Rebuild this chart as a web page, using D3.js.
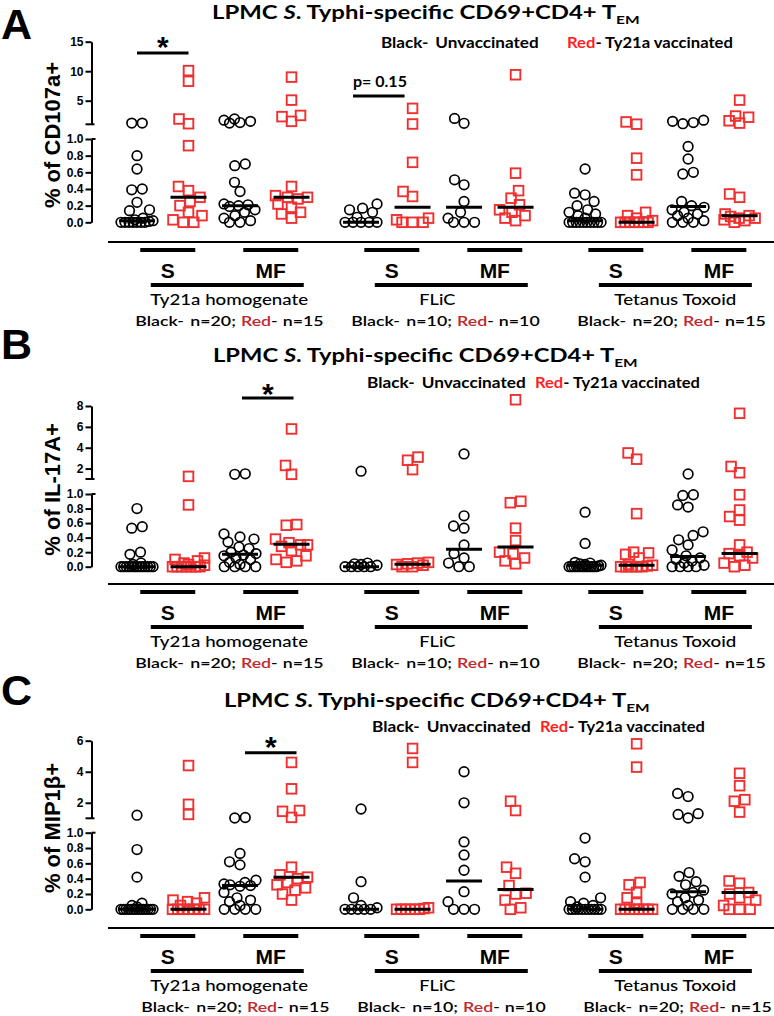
<!DOCTYPE html>
<html><head><meta charset="utf-8">
<script src="https://cdn.jsdelivr.net/npm/d3@7/dist/d3.min.js"></script>
<style>body{margin:0;background:#fff}svg{display:block}</style>
</head><body>
<svg id="chart" width="774" height="1016"></svg>
<script>
// ---------------- DATA ----------------
const antigens = ["Ty21a homogenate", "FLiC", "Tetanus Toxoid"];
const stims = ["S", "MF"];
const groupNames = ["Unvaccinated", "Ty21a vaccinated"];
const nBlack = [20, 10, 20];
const nRed = [15, 10, 15];
const panelLetters = ["A", "B", "C"];
const yTitles = ["% of CD107a+", "% of IL-17A+", "% of MIP1\u03B2+"];
const lowerTicks = [0, 0.2, 0.4, 0.6, 0.8, 1.0];
const upperTicksA = [5, 10, 15];
const upperTicksB = [2, 4, 6, 8];
const upperTicksC = [2, 4, 6];
const upperMax = [15, 8, 6];

// columns: Ty S, Ty MF, FLiC S, FLiC MF, TT S, TT MF
const cd107aBlack = [
  [1.2, 1.2, 0.80, 0.64, 0.39, 0.40, 0.24, 0.15, 0.14, 0.05, 0.03, 0.02, 0.01, 0, 0, 0, 0, 0, 0, 0],
  [1.9, 1.7, 1.5, 1.3, 1.2, 0.70, 0.68, 0.48, 0.37, 0.22, 0.21, 0.20, 0.19, 0.15, 0.12, 0.08, 0.05, 0.02, 0, 0],
  [0.22, 0.17, 0.15, 0.12, 0.06, 0, 0, 0, 0, 0],
  [2.0, 1.17, 0.51, 0.45, 0.25, 0.12, 0.05, 0, 0, 0],
  [0.64, 0.35, 0.33, 0.25, 0.20, 0.15, 0.12, 0.10, 0.08, 0.05, 0, 0, 0, 0, 0, 0, 0, 0, 0, 0],
  [1.7, 1.5, 1.3, 1.1, 0.91, 0.76, 0.60, 0.58, 0.25, 0.20, 0.18, 0.15, 0.12, 0.10, 0.08, 0.05, 0.02, 0, 0, 0]
];
const cd107aRed = [
  [10.1, 8.3, 1.9, 1.1, 0.92, 0.43, 0.38, 0.30, 0.25, 0.20, 0.12, 0.08, 0.03, 0, 0],
  [9.0, 5.1, 2.5, 2.3, 1.5, 0.43, 0.32, 0.30, 0.30, 0.28, 0.22, 0.18, 0.12, 0.10, 0.05],
  [3.7, 1.05, 0.72, 0.37, 0.31, 0.05, 0.03, 0, 0, 0],
  [9.4, 0.59, 0.38, 0.29, 0.21, 0.15, 0.12, 0.08, 0.05, 0.02],
  [1.4, 1.02, 0.77, 0.57, 0.12, 0.08, 0.05, 0.02, 0, 0, 0, 0, 0, 0, 0],
  [5.1, 2.4, 2.2, 1.6, 1.2, 0.34, 0.30, 0.10, 0.08, 0.07, 0.05, 0.05, 0.03, 0.02, 0]
];
const cd107aMedBlack = [0.02, 0.20, 0.0, 0.18, 0.02, 0.19];
const cd107aMedRed = [0.30, 0.30, 0.18, 0.18, 0.0, 0.08];

const il17aBlack = [
  [0.80, 0.55, 0.53, 0.20, 0.17, 0.05, 0.03, 0, 0, 0, 0, 0, 0, 0, 0, 0, 0, 0, 0, 0],
  [1.5, 1.45, 0.45, 0.41, 0.38, 0.34, 0.27, 0.25, 0.20, 0.18, 0.16, 0.15, 0.12, 0.10, 0.06, 0.03, 0, 0, 0, 0],
  [1.75, 0.05, 0.04, 0.03, 0.02, 0, 0, 0, 0, 0],
  [3.4, 0.70, 0.56, 0.53, 0.30, 0.18, 0.12, 0.05, 0, 0],
  [0.75, 0.32, 0.06, 0.05, 0.04, 0.03, 0.02, 0.01, 0, 0, 0, 0, 0, 0, 0, 0, 0, 0, 0, 0],
  [1.48, 0.99, 0.98, 0.85, 0.82, 0.48, 0.43, 0.37, 0.30, 0.23, 0.15, 0.12, 0.10, 0.08, 0.05, 0.02, 0, 0, 0, 0]
];
const il17aRed = [
  [1.25, 0.85, 0.12, 0.10, 0.08, 0.05, 0.03, 0.02, 0, 0, 0, 0, 0, 0, 0],
  [5.8, 2.3, 1.45, 0.58, 0.57, 0.38, 0.33, 0.30, 0.30, 0.28, 0.22, 0.15, 0.10, 0.08, 0.06],
  [3.1, 2.8, 1.9, 0.06, 0.05, 0.04, 0.03, 0.02, 0, 0],
  [8.6, 0.90, 0.88, 0.53, 0.36, 0.20, 0.18, 0.12, 0.08, 0.04],
  [3.5, 2.9, 0.73, 0.20, 0.19, 0.17, 0.12, 0.03, 0.02, 0.01, 0, 0, 0, 0, 0],
  [7.3, 2.2, 1.6, 0.99, 0.78, 0.69, 0.64, 0.30, 0.20, 0.18, 0.15, 0.12, 0.05, 0.02, 0]
];
const il17aMedBlack = [0.0, 0.17, 0.0, 0.24, 0.02, 0.14];
const il17aMedRed = [0.0, 0.31, 0.035, 0.27, 0.02, 0.18];

const mip1bBlack = [
  [1.2, 0.78, 0.42, 0.08, 0.05, 0.03, 0, 0, 0, 0, 0, 0, 0, 0, 0, 0, 0, 0, 0, 0],
  [1.05, 1.02, 0.73, 0.62, 0.58, 0.38, 0.35, 0.33, 0.32, 0.31, 0.30, 0.22, 0.15, 0.12, 0.10, 0.05, 0, 0, 0, 0],
  [1.6, 0.36, 0.15, 0.05, 0.02, 0, 0, 0, 0, 0],
  [4.0, 2.0, 0.88, 0.71, 0.51, 0.23, 0.10, 0, 0, 0],
  [0.93, 0.66, 0.62, 0.42, 0.15, 0.10, 0.08, 0.05, 0.03, 0, 0, 0, 0, 0, 0, 0, 0, 0, 0, 0],
  [2.6, 2.4, 1.3, 1.25, 1.02, 0.48, 0.43, 0.36, 0.32, 0.25, 0.22, 0.20, 0.15, 0.12, 0.10, 0.05, 0, 0, 0, 0]
];
const mip1bRed = [
  [4.4, 1.9, 1.25, 0.15, 0.12, 0.10, 0.08, 0.05, 0, 0, 0, 0, 0, 0, 0],
  [4.6, 2.9, 1.5, 1.45, 1.06, 0.55, 0.45, 0.42, 0.40, 0.35, 0.32, 0.28, 0.25, 0.20, 0.12],
  [5.5, 4.6, 0.02, 0.01, 0, 0, 0, 0, 0, 0],
  [2.1, 1.5, 0.55, 0.47, 0.31, 0.21, 0.20, 0.12, 0.02, 0],
  [5.8, 4.3, 0.35, 0.32, 0.22, 0.15, 0.08, 0, 0, 0, 0, 0, 0, 0, 0],
  [3.9, 3.1, 2.2, 2.1, 1.4, 0.37, 0.34, 0.22, 0.20, 0.15, 0.12, 0.05, 0, 0, 0]
];
const mip1bMedBlack = [0.0, 0.31, 0.0, 0.37, 0.0, 0.23];
const mip1bMedRed = [0.0, 0.42, 0.0, 0.26, 0.0, 0.22];

// ---------------- LAYOUT ----------------
const layouts = [
  {letterY: 39, title: [212, 640, 19], leg: [48, 381, 532, 567, 733], up: [41.7, 124.3], lo: [139, 222.3], axisY: 242, nShift: 0,
   sig: [{c: [0, 1], dx: 0, y: 53, text: "*", ty: 40}, {c: [4.35, 5.35], dx: -8, y: 96, text: "p= 0.15", ty: 87}]},
  {letterY: 359, title: [213, 638, 362], leg: [388, 367, 519, 535, 700], up: [406, 479], lo: [494, 566.7], axisY: 584, nShift: 0,
   sig: [{c: [2, 3], dx: 2, y: 398, text: "*", ty: 387}]},
  {letterY: 705, title: [224, 650, 707], leg: [732, 372, 524, 540, 705], up: [740.7, 818.3], lo: [832.7, 909.3], axisY: 928, nShift: 6,
   sig: [{c: [2, 3], dx: 5, y: 752.7, text: "*", ty: 740}]}
];
const datasets = [
  {black: cd107aBlack, red: cd107aRed, medB: cd107aMedBlack, medR: cd107aMedRed, ticks: upperTicksA},
  {black: il17aBlack, red: il17aRed, medB: il17aMedBlack, medR: il17aMedRed, ticks: upperTicksB},
  {black: mip1bBlack, red: mip1bRed, medB: mip1bMedBlack, medR: mip1bMedRed, ticks: upperTicksC}
];

const FT = "Lato, 'Open Sans', sans-serif";
const FA = "'Liberation Sans', Arial, sans-serif";
const RED = "#f03030";
const RED_LEG = "#ff1f1f";
const RED_N = "#c0282d";
const GSTEP = 4.35;
const x = d3.scaleLinear().domain([0, 11.7]).range([137, 739.6]);
const AX = 91.5;

const svg = d3.select("#chart");

function fitText(parent, x0, x1, base, fs, weight, family, build) {
  const t = parent.append("text").attr("font-size", fs).attr("font-weight", weight)
    .attr("font-family", family).attr("fill", "#000");
  build(t);
  const w = t.node().getComputedTextLength();
  const k = (x1 - x0) / w;
  t.attr("transform", `translate(${x0},${base}) scale(${k},1)`);
  return t;
}

function swarm(vals, yf, D, maxW) {
  const pts = vals.map(v => ({v, y: yf(v), dx: 0})).sort((a, b) => b.y - a.y);
  const placed = [];
  const minDist = (xx, yy) => placed.reduce((m, q) => Math.min(m, Math.hypot(q.dx - xx, q.y - yy)), Infinity);
  let i = 0;
  while (i < pts.length) {
    let j = i;
    while (j + 1 < pts.length && Math.abs(pts[j + 1].y - pts[i].y) < 2) j++;
    const k = j - i + 1;
    const s = k > 1 ? Math.min(D, 2 * maxW / (k - 1)) : 0;
    const offs = d3.range(k).map(m => (m - (k - 1) / 2) * s);
    const ok = offs.every((o, m) => minDist(o, pts[i + m].y) >= D - 0.5);
    if (ok) {
      offs.forEach((o, m) => { pts[i + m].dx = o; placed.push(pts[i + m]); });
    } else {
      for (let m = i; m <= j; m++) {
        const p = pts[m];
        const cands = d3.range(-maxW, maxW + 0.01, 0.5).sort((a, b) => Math.abs(a) - Math.abs(b));
        let best = null, bestD = -1;
        for (const c of cands) {
          const d = minDist(c, p.y);
          if (d >= D) { best = c; break; }
          if (d > bestD) { bestD = d; best = c; }
        }
        p.dx = best; placed.push(p);
      }
    }
    i = j + 1;
  }
  return pts;
}

datasets.forEach((ds, pi) => {
  const L = layouts[pi];
  const g = svg.append("g");
  const up = d3.scaleLinear().domain([1, upperMax[pi]]).range([L.up[1], L.up[0]]);
  const lo = d3.scaleLinear().domain([0, 1]).range([L.lo[1], L.lo[0]]);
  const yf = v => v > 1 ? up(v) : lo(v);

  // panel letter
  g.append("text").attr("x", 1).attr("y", L.letterY).attr("font-family", FA).attr("font-weight", "bold")
    .attr("font-size", 43).text(panelLetters[pi]);

  // title
  fitText(g, L.title[0], L.title[1], L.title[2], 18.5, "bold", FT, t => {
    t.append("tspan").text("LPMC ");
    t.append("tspan").attr("font-style", "italic").text("S");
    t.append("tspan").text(". Typhi-specific CD69+CD4+ T");
    t.append("tspan").attr("font-size", 12).attr("dy", 5).text("EM");
  });
  // legend
  fitText(g, L.leg[1], L.leg[2], L.leg[0], 15, "bold", FT, t => {
    t.append("tspan").text("Black-");
    t.append("tspan").attr("dx", 6).text("Unvaccinated");
  });
  fitText(g, L.leg[3], L.leg[4], L.leg[0], 15, "bold", FT, t => {
    t.append("tspan").attr("fill", RED_LEG).text("Red");
    t.append("tspan").text("- " + groupNames[1]);
  });

  // axes
  const aU = d3.axisLeft(up).tickValues(ds.ticks).tickSize(6).tickSizeOuter(0).tickPadding(2).tickFormat(d3.format("d"));
  const aL = d3.axisLeft(lo).tickValues(lowerTicks).tickSize(6).tickSizeOuter(0).tickPadding(2).tickFormat(d3.format(".1f"));
  [aU, aL].forEach(a => {
    const ag = g.append("g").attr("transform", `translate(${AX},0)`).call(a);
    ag.select(".domain").attr("stroke", "#000").attr("stroke-width", 2);
    ag.selectAll(".tick line").attr("stroke", "#000").attr("stroke-width", 2);
    ag.selectAll(".tick text").attr("font-family", FA).attr("font-weight", "bold").attr("font-size", 12).attr("fill", "#000");
  });
  // break ticks
  g.append("line").attr("x1", AX - 6).attr("x2", AX + 3).attr("y1", up(1)).attr("y2", up(1)).attr("stroke", "#000").attr("stroke-width", 2);
  g.append("line").attr("x1", AX).attr("x2", AX + 4).attr("y1", lo(1)).attr("y2", lo(1)).attr("stroke", "#000").attr("stroke-width", 2);

  // y title
  g.append("text").attr("transform", `translate(52,${(L.up[0] + L.lo[1]) / 2 + 3}) rotate(-90)`)
    .attr("text-anchor", "middle").attr("dominant-baseline", "central")
    .attr("font-family", FA).attr("font-weight", "bold").attr("font-size", 22).text(yTitles[pi]);

  // x axis line
  g.append("line").attr("x1", 108).attr("x2", 774).attr("y1", L.axisY).attr("y2", L.axisY)
    .attr("stroke", "#000").attr("stroke-width", 2);

  // points
  antigens.forEach((ag, gi) => {
    stims.forEach((st, si) => {
      const col = gi * 2 + si;
      [0, 1].forEach(c => {
        const cx = x(gi * GSTEP + si * 2 + c);
        const vals = c === 0 ? ds.black[col] : ds.red[col];
        const pts = swarm(vals, yf, 10.5, 16);
        if (c === 0) {
          g.selectAll(null).data(pts).enter().append("circle")
            .attr("cx", d => cx + d.dx).attr("cy", d => d.y).attr("r", 4.8)
            .attr("fill", "none").attr("stroke", "#000").attr("stroke-width", 1.7);
        } else {
          g.selectAll(null).data(pts).enter().append("rect")
            .attr("x", d => cx + d.dx - 4.8).attr("y", d => d.y - 4.8).attr("width", 9.6).attr("height", 9.6)
            .attr("fill", "none").attr("stroke", RED).attr("stroke-width", 1.9);
        }
        const med = c === 0 ? ds.medB[col] : ds.medR[col];
        g.append("line").attr("x1", cx - 18).attr("x2", cx + 18).attr("y1", yf(med)).attr("y2", yf(med))
          .attr("stroke", "#000").attr("stroke-width", 3);
      });
      // stimulation bar & label
      const pc = x(gi * GSTEP + si * 2 + 0.5) + 5;
      g.append("line").attr("x1", pc - 27.5).attr("x2", pc + 27.5).attr("y1", L.axisY + 8).attr("y2", L.axisY + 8)
        .attr("stroke", "#000").attr("stroke-width", 4);
      g.append("text").attr("x", pc).attr("y", L.axisY + 36).attr("text-anchor", "middle")
        .attr("font-family", FA).attr("font-weight", "bold").attr("font-size", 21).text(st);
    });
    const ac = x(gi * GSTEP + 1.5) + 13;
    g.append("line").attr("x1", ac - 76.5).attr("x2", ac + 76.5).attr("y1", L.axisY + 43).attr("y2", L.axisY + 43)
      .attr("stroke", "#000").attr("stroke-width", 4);
    const nameOff = [2, -14, 0][gi];
    const nameW = [158, 36, 122][gi];
    fitText(g, ac + nameOff - nameW / 2, ac + nameOff + nameW / 2, L.axisY + 63, 15, 500, FT, t => t.text(ag));
    const nOff = [-6, -14, -12][gi] + L.nShift;
    fitText(g, ac + nOff - 86, ac + nOff + 86, L.axisY + 84, 14, 600, FT, t => {
      t.append("tspan").text("Black-");
      t.append("tspan").attr("dx", 5).text(`n=${nBlack[gi]};`);
      t.append("tspan").attr("dx", 4).attr("fill", RED_N).text("Red");
      t.append("tspan").text("-");
      t.append("tspan").attr("dx", 4).text(`n=${nRed[gi]}`);
    });
  });

  // significance annotations
  L.sig.forEach(s => {
    const x0 = x(s.c[0]) + s.dx, x1 = x(s.c[1]) + s.dx;
    g.append("line").attr("x1", x0).attr("x2", x1).attr("y1", s.y).attr("y2", s.y).attr("stroke", "#000").attr("stroke-width", 3);
    if (s.text === "*") {
      g.append("text").attr("x", (x0 + x1) / 2).attr("y", s.ty + 17).attr("text-anchor", "middle")
        .attr("font-family", FA).attr("font-weight", "bold").attr("font-size", 30).text("*");
    } else {
      g.append("text").attr("x", x0).attr("y", s.ty).attr("font-family", FT).attr("font-weight", "bold")
        .attr("font-size", 16).text(s.text);
    }
  });
});
</script>
</body></html>
